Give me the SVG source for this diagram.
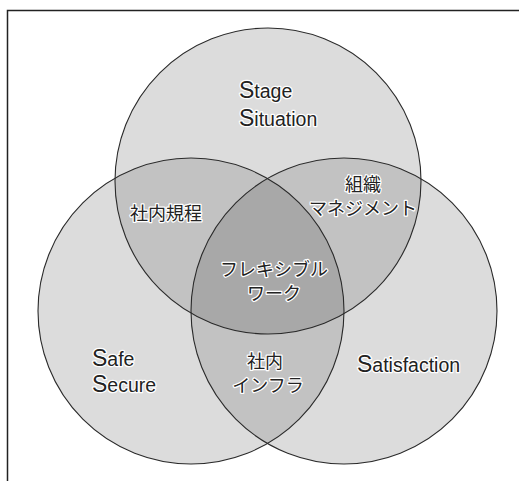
<svg xmlns="http://www.w3.org/2000/svg" width="519" height="481" viewBox="0 0 519 481">
<style>
.c{fill:#dcdcdc;stroke:none}
.o{fill:none;stroke:#2a2a2a;stroke-width:1.1}
.t{font-family:"Liberation Sans","Noto Sans CJK JP",sans-serif;font-size:19.5px;fill:#222;stroke:#fff;stroke-width:2.5;stroke-linejoin:round;paint-order:stroke}
.j{font-family:"Noto Sans CJK JP","Liberation Sans",sans-serif;font-size:18px;fill:#222;stroke:#fff;stroke-width:2.5;stroke-linejoin:round;paint-order:stroke;text-anchor:middle}
.b{font-size:23px}
</style>
<defs>
<clipPath id="cT"><circle cx="268" cy="181" r="153"/></clipPath>
<clipPath id="cL"><circle cx="191" cy="311" r="153"/></clipPath>
<clipPath id="cR"><circle cx="344" cy="311" r="153"/></clipPath>
</defs>
<rect width="519" height="481" fill="#fff"/>
<path d="M7.5 481V10.5H519" fill="none" stroke="#222" stroke-width="1.5"/>
<g id="fills">
<circle class="c" cx="268" cy="181" r="153"/>
<circle class="c" cx="191" cy="311" r="153"/>
<circle class="c" cx="344" cy="311" r="153"/>
<g clip-path="url(#cT)"><circle cx="191" cy="311" r="153" fill="#c2c2c2"/><circle cx="344" cy="311" r="153" fill="#c2c2c2"/></g>
<g clip-path="url(#cL)"><circle cx="344" cy="311" r="153" fill="#c2c2c2"/></g>
<g clip-path="url(#cT)"><g clip-path="url(#cL)"><circle cx="344" cy="311" r="153" fill="#a8a8a8"/></g></g>
</g>
<g id="outlines">
<circle class="o" cx="268" cy="181" r="153"/>
<circle class="o" cx="191" cy="311" r="153"/>
<circle class="o" cx="344" cy="311" r="153"/>
</g>
<g id="stage"><text class="t" x="239" y="98"><tspan class="b">S</tspan>tage</text><text class="t" x="239" y="126"><tspan class="b">S</tspan>ituation</text></g>
<g id="safe"><text class="t" x="92" y="366"><tspan class="b">S</tspan>afe</text><text class="t" x="92" y="392"><tspan class="b">S</tspan>ecure</text></g>
<g id="satisfaction"><text class="t" x="357" y="372"><tspan class="b">S</tspan>atisfaction</text></g>
<g id="kitei"><text class="j" x="166" y="220">社内規程</text></g>
<g id="soshiki"><text class="j" x="363" y="191">組織</text><text class="j" x="363" y="215">マネジメント</text></g>
<g id="flex"><text class="j" x="274" y="276">フレキシブル</text><text class="j" x="274" y="300">ワーク</text></g>
<g id="infra"><text class="j" x="265" y="368">社内</text><text class="j" x="268" y="392">インフラ</text></g>
</svg>
